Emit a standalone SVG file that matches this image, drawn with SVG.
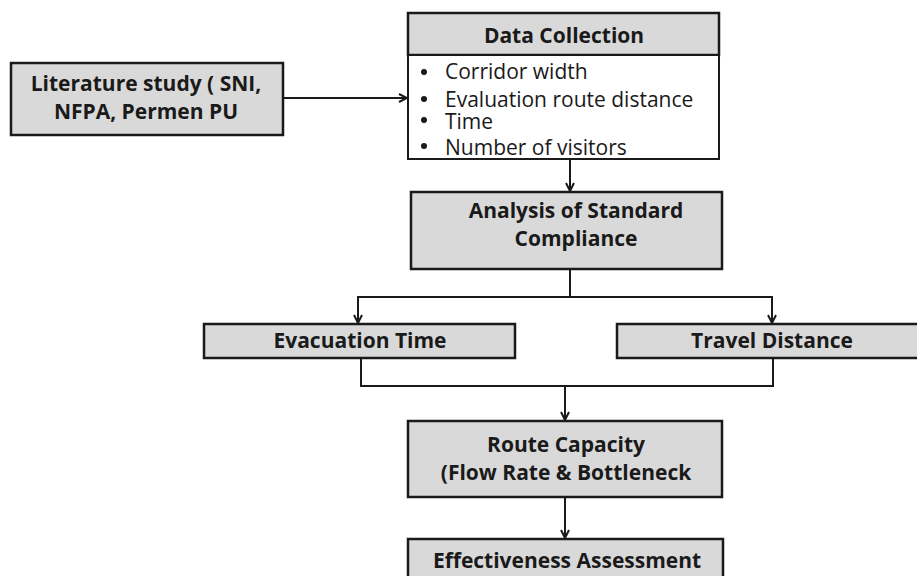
<svg xmlns="http://www.w3.org/2000/svg" width="917" height="576" viewBox="0 0 917 576">
<defs>
<style>
.box{fill:#d9d9d9;stroke:#1a1a1a;stroke-width:2.5}
.wbox{fill:#ffffff;stroke:#1a1a1a;stroke-width:2}
.b{font-family:"Open Sans","Liberation Sans",sans-serif;font-weight:bold;font-size:21px;fill:#1a1a1a;text-anchor:middle}
.r{font-family:"Open Sans","Liberation Sans",sans-serif;font-size:21px;fill:#1a1a1a}
.ln{fill:none;stroke:#1a1a1a;stroke-width:2}
</style>
<marker id="ah" viewBox="0 0 10 10" refX="9" refY="5" markerWidth="5" markerHeight="5" orient="auto" markerUnits="strokeWidth">
<path d="M1,1 L9,5 L1,9" fill="none" stroke="#1a1a1a" stroke-width="2"/>
</marker>
</defs>
<rect width="917" height="576" fill="#ffffff"/>
<g id="connectors">
<path class="ln" d="M283,98 H407" marker-end="url(#ah)"/>
<path class="ln" d="M570,159 V191" marker-end="url(#ah)"/>
<path class="ln" d="M570,269 V296"/>
<path class="ln" d="M358,323 V297 H772 V323" marker-end="url(#ah)"/>
<path class="ln" d="M358,297 V323" marker-end="url(#ah)"/>
<path class="ln" d="M361,358 V386 H773 V358"/>
<path class="ln" d="M565,386 V420" marker-end="url(#ah)"/>
<path class="ln" d="M565,497 V538" marker-end="url(#ah)"/>
</g>
<g id="literature">
<rect class="box" x="11" y="63" width="272" height="72"/>
<text class="b" x="146" y="91">Literature study ( SNI,</text>
<text class="b" x="146" y="119">NFPA, Permen PU</text>
</g>
<g id="data-collection">
<rect class="box" x="408" y="13" width="311" height="42"/>
<rect class="wbox" x="408" y="55" width="311" height="104"/>
<text class="b" x="564" y="43">Data Collection</text>
<circle cx="424" cy="72" r="3" fill="#1a1a1a"/>
<text class="r" x="445" y="79">Corridor width</text>
<circle cx="424" cy="99" r="3" fill="#1a1a1a"/>
<text class="r" x="445" y="107">Evaluation route distance</text>
<circle cx="424" cy="120" r="3" fill="#1a1a1a"/>
<text class="r" x="445" y="129">Time</text>
<circle cx="424" cy="146" r="3" fill="#1a1a1a"/>
<text class="r" x="445" y="155">Number of visitors</text>
</g>
<g id="analysis">
<rect class="box" x="411" y="192" width="311" height="77"/>
<text class="b" x="576" y="218">Analysis of Standard</text>
<text class="b" x="576" y="246">Compliance</text>
</g>
<g id="evacuation-time">
<rect class="box" x="204" y="324" width="311" height="34"/>
<text class="b" x="360" y="348">Evacuation Time</text>
</g>
<g id="travel-distance">
<rect class="box" x="617" y="324" width="310" height="34"/>
<text class="b" x="772" y="348">Travel Distance</text>
</g>
<g id="route-capacity">
<rect class="box" x="408" y="421" width="314" height="76"/>
<text class="b" x="566" y="452">Route Capacity</text>
<text class="b" x="566" y="480">(Flow Rate &amp; Bottleneck</text>
</g>
<g id="effectiveness">
<rect class="box" x="408" y="539" width="315" height="50"/>
<text class="b" x="567" y="568">Effectiveness Assessment</text>
</g>
</svg>
